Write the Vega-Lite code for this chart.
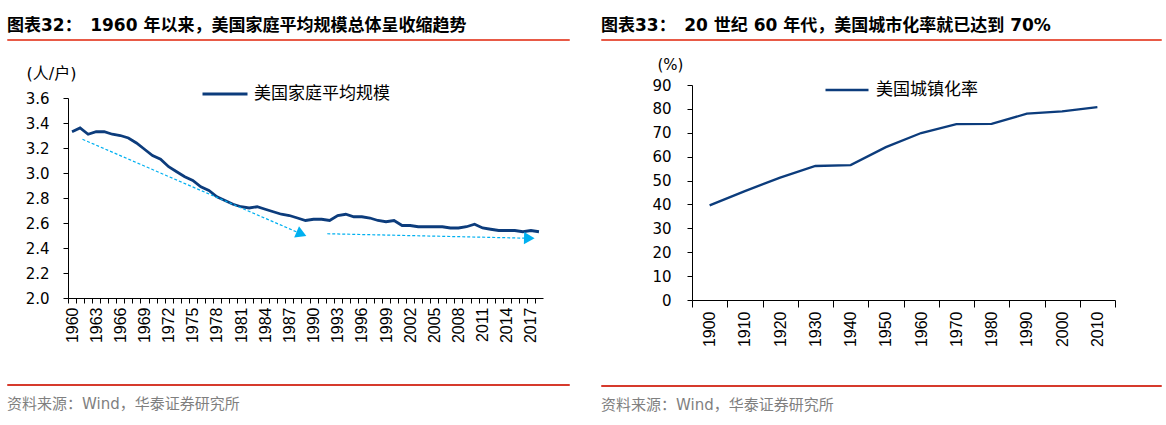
{
  "$schema": "https://vega.github.io/schema/vega-lite/v6.json",
  "padding": {"left": 6, "top": 16, "right": 0, "bottom": 0},
  "background": "white",
  "config": {
    "view": {"stroke": null},
    "font": "DejaVu Sans",
    "axis": {"labelOverlap": false, "labelFlush": false, "labelBound": false}
  },
  "resolve": {"scale": {"color": "independent"}, "legend": {"color": "independent"}},
  "datasets": {
    "household": [
      {"year": 1960, "size": 3.33}, {"year": 1961, "size": 3.36}, {"year": 1962, "size": 3.31}, {"year": 1963, "size": 3.33},
      {"year": 1964, "size": 3.33}, {"year": 1965, "size": 3.31}, {"year": 1966, "size": 3.30}, {"year": 1967, "size": 3.28},
      {"year": 1968, "size": 3.24}, {"year": 1969, "size": 3.19}, {"year": 1970, "size": 3.14}, {"year": 1971, "size": 3.11},
      {"year": 1972, "size": 3.05}, {"year": 1973, "size": 3.01}, {"year": 1974, "size": 2.97}, {"year": 1975, "size": 2.94},
      {"year": 1976, "size": 2.89}, {"year": 1977, "size": 2.86}, {"year": 1978, "size": 2.81}, {"year": 1979, "size": 2.78},
      {"year": 1980, "size": 2.75}, {"year": 1981, "size": 2.73}, {"year": 1982, "size": 2.72}, {"year": 1983, "size": 2.73},
      {"year": 1984, "size": 2.71}, {"year": 1985, "size": 2.69}, {"year": 1986, "size": 2.67}, {"year": 1987, "size": 2.66},
      {"year": 1988, "size": 2.64}, {"year": 1989, "size": 2.62}, {"year": 1990, "size": 2.63}, {"year": 1991, "size": 2.63},
      {"year": 1992, "size": 2.62}, {"year": 1993, "size": 2.66}, {"year": 1994, "size": 2.67}, {"year": 1995, "size": 2.65},
      {"year": 1996, "size": 2.65}, {"year": 1997, "size": 2.64}, {"year": 1998, "size": 2.62}, {"year": 1999, "size": 2.61},
      {"year": 2000, "size": 2.62}, {"year": 2001, "size": 2.58}, {"year": 2002, "size": 2.58}, {"year": 2003, "size": 2.57},
      {"year": 2004, "size": 2.57}, {"year": 2005, "size": 2.57}, {"year": 2006, "size": 2.57}, {"year": 2007, "size": 2.56},
      {"year": 2008, "size": 2.56}, {"year": 2009, "size": 2.57}, {"year": 2010, "size": 2.59}, {"year": 2011, "size": 2.56},
      {"year": 2012, "size": 2.55}, {"year": 2013, "size": 2.54}, {"year": 2014, "size": 2.54}, {"year": 2015, "size": 2.54},
      {"year": 2016, "size": 2.53}, {"year": 2017, "size": 2.54}, {"year": 2018, "size": 2.53}
    ],
    "arrows": [
      {"id": 1, "startYear": 1961.3, "startVal": 3.27, "endYear": 1988.5, "endVal": 2.512},
      {"id": 2, "startYear": 1991.7, "startVal": 2.514, "endYear": 2016.8, "endVal": 2.478}
    ],
    "urban": [
      {"year": "1900", "rate": 39.6}, {"year": "1910", "rate": 45.6}, {"year": "1920", "rate": 51.2},
      {"year": "1930", "rate": 56.1}, {"year": "1940", "rate": 56.5}, {"year": "1950", "rate": 64.0},
      {"year": "1960", "rate": 69.9}, {"year": "1970", "rate": 73.6}, {"year": "1980", "rate": 73.7},
      {"year": "1990", "rate": 78.0}, {"year": "2000", "rate": 79.0}, {"year": "2010", "rate": 80.7}
    ]
  },
  "spacing": 30,
  "hconcat": [
    {
      "align": "none",
      "spacing": 24,
      "resolve": {"scale": {"color": "independent"}, "legend": {"color": "independent"}},
      "vconcat": [
        {
          "data": {"values": []},
          "mark": "point",
          "width": 562,
          "height": 1,
          "view": {"stroke": "#E85A46", "strokeWidth": 1},
          "title": {"text": "图表32：\u20021960 年以来，美国家庭平均规模总体呈收缩趋势", "anchor": "start", "orient": "top", "offset": 4, "font": "DejaVu Sans, Noto Sans CJK SC", "fontSize": 17, "fontWeight": "bold", "color": "#000000"}
        },
        {
          "align": "none",
          "spacing": 40,
          "resolve": {"scale": {"color": "independent"}, "legend": {"color": "independent"}},
          "vconcat": [
            {
              "spacing": 17,
              "resolve": {"scale": {"color": "independent"}, "legend": {"color": "independent"}},
              "hconcat": [
                {"data": {"values": []}, "mark": "point", "width": 1, "height": 1},
                {
                  "width": 475,
                  "height": 200,
                  "layer": [
                    {
                      "data": {"name": "household"},
                      "mark": {"type": "line", "strokeWidth": 2.8},
                      "encoding": {
                        "x": {
                          "field": "year", "type": "quantitative",
                          "scale": {"domain": [1959.5, 2018.5], "nice": false, "zero": false},
                          "axis": {
                            "values": [1960,1961,1962,1963,1964,1965,1966,1967,1968,1969,1970,1971,1972,1973,1974,1975,1976,1977,1978,1979,1980,1981,1982,1983,1984,1985,1986,1987,1988,1989,1990,1991,1992,1993,1994,1995,1996,1997,1998,1999,2000,2001,2002,2003,2004,2005,2006,2007,2008,2009,2010,2011,2012,2013,2014,2015,2016,2017,2018],
                            "tickCount": 200,
                            "format": "d",
                            "labelExpr": "(datum.value - 1960) % 3 == 0 ? datum.label : ''",
                            "labelAngle": -90, "labelFont": "Liberation Sans", "labelFontSize": 16, "labelColor": "#000000",
                            "labelPadding": 4, "tickSize": 5, "tickOffset": -4.03, "labelOffset": 4.03,
                            "tickColor": "#000000", "domainColor": "#000000", "title": null, "grid": false,
                            "labelOverlap": false, "labelBound": false, "labelFlush": false
                          }
                        },
                        "y": {
                          "field": "size", "type": "quantitative",
                          "scale": {"domain": [2.0, 3.6], "nice": false, "zero": false},
                          "axis": {
                            "values": [2.0, 2.2, 2.4, 2.6, 2.8, 3.0, 3.2, 3.4, 3.6],
                            "tickCount": 50,
                            "format": ".1f",
                            "title": "(人/户)", "titleAngle": 0, "titleX": -42, "titleY": -25,
                            "titleAlign": "left", "titleBaseline": "middle",
                            "titleFont": "DejaVu Sans, Noto Sans CJK SC", "titleFontSize": 16, "titleFontWeight": "normal", "titleColor": "#000000",
                            "labelFont": "DejaVu Sans", "labelFontSize": 15, "labelColor": "#000000", "labelPadding": 14,
                            "tickSize": 5, "tickColor": "#000000", "domainColor": "#000000", "grid": false,
                            "labelOverlap": false, "labelBound": false, "labelFlush": false
                          }
                        },
                        "color": {
                          "datum": "美国家庭平均规模", "type": "nominal",
                          "scale": {"range": ["#0C3C7C"]},
                          "legend": {
                            "orient": "none", "legendX": 133, "legendY": -28, "title": null, "padding": 0,
                            "symbolType": "stroke", "symbolStrokeWidth": 2.8, "symbolSize": 2025,
                            "labelFont": "Noto Sans CJK SC", "labelFontSize": 17, "labelColor": "#000000", "labelOffset": 5, "labelLimit": 300
                          }
                        }
                      }
                    },
                    {
                      "data": {"name": "arrows"},
                      "mark": {"type": "rule", "color": "#00B0F0", "strokeDash": [3, 2], "strokeWidth": 1.2},
                      "encoding": {
                        "x": {"field": "startYear", "type": "quantitative"},
                        "y": {"field": "startVal", "type": "quantitative"},
                        "x2": {"field": "endYear"},
                        "y2": {"field": "endVal"}
                      }
                    },
                    {
                      "data": {"name": "arrows"},
                      "transform": [{"filter": "datum.id == 1"}],
                      "mark": {"type": "point", "shape": "triangle-right", "angle": 23, "size": 150, "filled": true, "color": "#00B0F0", "opacity": 1},
                      "encoding": {
                        "x": {"field": "endYear", "type": "quantitative"},
                        "y": {"field": "endVal", "type": "quantitative"}
                      }
                    },
                    {
                      "data": {"name": "arrows"},
                      "transform": [{"filter": "datum.id == 2"}],
                      "mark": {"type": "point", "shape": "triangle-right", "angle": 1.3, "size": 150, "filled": true, "color": "#00B0F0", "opacity": 1},
                      "encoding": {
                        "x": {"field": "endYear", "type": "quantitative"},
                        "y": {"field": "endVal", "type": "quantitative"}
                      }
                    }
                  ]
                }
              ]
            },
            {
              "data": {"values": []},
              "mark": "point",
              "width": 562,
              "height": 1,
              "view": {"stroke": "#D63A2C", "strokeWidth": 1},
              "title": {"text": "资料来源：Wind，华泰证券研究所", "orient": "bottom", "anchor": "start", "offset": 12, "font": "DejaVu Sans, Noto Sans CJK SC", "fontSize": 15, "fontWeight": "normal", "color": "#7F7F7F"}
            }
          ]
        }
      ]
    },
    {
      "align": "none",
      "spacing": 16,
      "resolve": {"scale": {"color": "independent"}, "legend": {"color": "independent"}},
      "vconcat": [
        {
          "data": {"values": []},
          "mark": "point",
          "width": 560,
          "height": 1,
          "view": {"stroke": "#E85A46", "strokeWidth": 1},
          "title": {"text": "图表33：\u200220 世纪 60 年代，美国城市化率就已达到 70%", "anchor": "start", "orient": "top", "offset": 4, "font": "DejaVu Sans, Noto Sans CJK SC", "fontSize": 17, "fontWeight": "bold", "color": "#000000"}
        },
        {
          "align": "none",
          "spacing": 37,
          "resolve": {"scale": {"color": "independent"}, "legend": {"color": "independent"}},
          "vconcat": [
            {
              "spacing": 49,
              "resolve": {"scale": {"color": "independent"}, "legend": {"color": "independent"}},
              "hconcat": [
                {"data": {"values": []}, "mark": "point", "width": 1, "height": 1},
                {
                  "width": 423,
                  "height": 215,
                  "data": {"name": "urban"},
                  "mark": {"type": "line", "strokeWidth": 2.3},
                  "encoding": {
                    "x": {
                      "field": "year", "type": "ordinal",
                      "scale": {"type": "band", "paddingInner": 0, "paddingOuter": 0},
                      "axis": {
                        "tickBand": "extent", "labelAngle": -90, "labelFont": "Liberation Sans", "labelFontSize": 16, "labelColor": "#000000",
                        "labelPadding": 4, "tickSize": 7, "tickColor": "#000000", "domainColor": "#000000", "title": null, "grid": false
                      }
                    },
                    "y": {
                      "field": "rate", "type": "quantitative",
                      "scale": {"domain": [0, 90], "nice": false, "zero": false},
                      "axis": {
                        "values": [0, 10, 20, 30, 40, 50, 60, 70, 80, 90],
                        "tickCount": 50,
                        "title": "(%)", "titleAngle": 0, "titleX": -35, "titleY": -21,
                        "titleAlign": "left", "titleBaseline": "middle",
                        "titleFont": "DejaVu Sans", "titleFontSize": 15, "titleFontWeight": "normal", "titleColor": "#000000",
                        "labelFont": "DejaVu Sans", "labelFontSize": 15, "labelColor": "#000000", "labelPadding": 16,
                        "tickSize": 5, "tickColor": "#000000", "domainColor": "#000000", "grid": false
                      }
                    },
                    "color": {
                      "datum": "美国城镇化率", "type": "nominal",
                      "scale": {"range": ["#0C3C7C"]},
                      "legend": {
                        "orient": "none", "legendX": 132, "legendY": -18, "title": null, "padding": 0,
                        "symbolType": "stroke", "symbolStrokeWidth": 2.3, "symbolSize": 1849,
                        "labelFont": "Noto Sans CJK SC", "labelFontSize": 17, "labelColor": "#000000", "labelOffset": 6, "labelLimit": 300
                      }
                    }
                  }
                }
              ]
            },
            {
              "data": {"values": []},
              "mark": "point",
              "width": 560,
              "height": 1,
              "view": {"stroke": "#D63A2C", "strokeWidth": 1},
              "title": {"text": "资料来源：Wind，华泰证券研究所", "orient": "bottom", "anchor": "start", "offset": 12, "font": "DejaVu Sans, Noto Sans CJK SC", "fontSize": 15, "fontWeight": "normal", "color": "#7F7F7F"}
            }
          ]
        }
      ]
    }
  ]
}
